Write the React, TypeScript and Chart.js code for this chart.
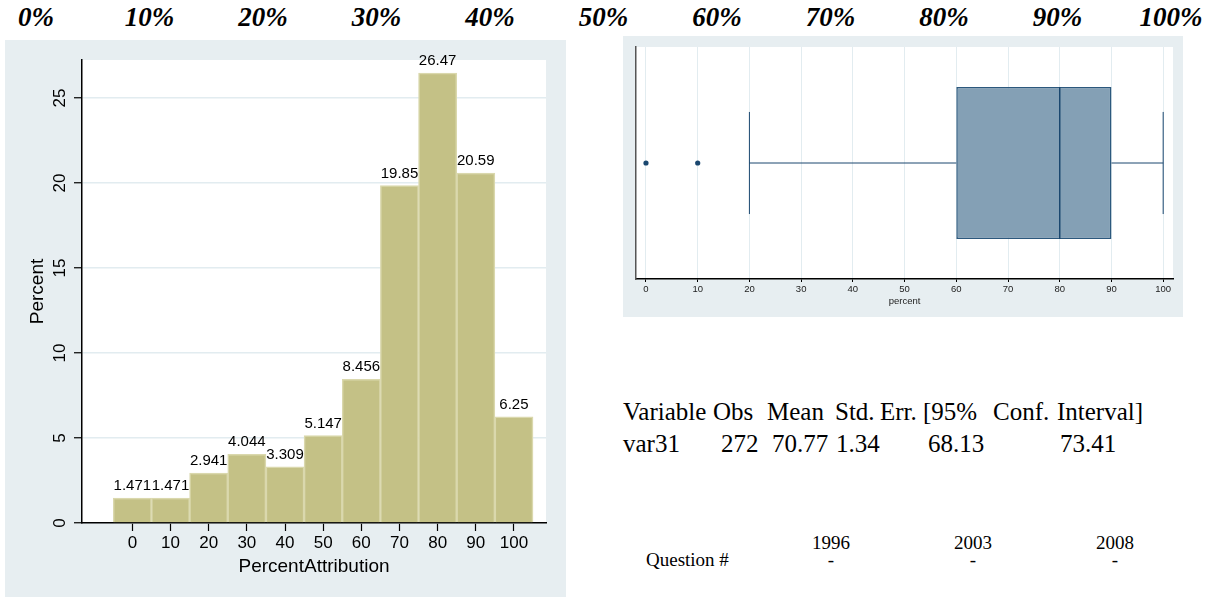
import React, { useEffect, useRef } from "react";
import { Chart, registerables } from "chart.js";

Chart.register(...registerables);

// ---------------- data ----------------
const histBinCenters = [0, 10, 20, 30, 40, 50, 60, 70, 80, 90, 100];
const histPercents = [1.471, 1.471, 2.941, 4.044, 3.309, 5.147, 8.456, 19.85, 26.47, 20.59, 6.25];
const histValueLabels = ["1.471", "1.471", "2.941", "4.044", "3.309", "5.147", "8.456", "19.85", "26.47", "20.59", "6.25"];
const histXTicks = [0, 10, 20, 30, 40, 50, 60, 70, 80, 90, 100];
const histYTicks = [0, 5, 10, 15, 20, 25];

const boxQ1 = 60;
const boxMedian = 80;
const boxQ3 = 90;
const whiskerLow = 20;
const whiskerHigh = 100;
const boxOutliers = [0, 10];
const boxXTicks = [0, 10, 20, 30, 40, 50, 60, 70, 80, 90, 100];

const rulerLabels = ["0%", "10%", "20%", "30%", "40%", "50%", "60%", "70%", "80%", "90%", "100%"];
const statsHeader = ["Variable", "Obs", "Mean", "Std.", "Err.", "[95%", "Conf.", "Interval]"];
const statsValues = ["var31", "272", "70.77", "1.34", "68.13", "73.41"];
const yearLabels = ["1996", "2003", "2008"];
const questionLabel = "Question #";
const questionValues = ["-", "-", "-"];

// ---------------- layout / style ----------------
const SANS = 'Arial, "Liberation Sans", Helvetica, sans-serif';
const SERIF = '"Times New Roman", "Liberation Serif", Times, serif';
const PANEL = "#e7eef1";
const GRID = "#e2ecf0";
const NAVY = "#1a476f";

const headerX = [623, 713, 767, 835, 880, 923, 993, 1057];
const valuesX = [623, 721, 772, 836, 928, 1060];
const yearCX = [831, 973, 1115];

const panelPlugin = {
  id: "panelBg",
  beforeDraw(chart: any, _args: any, opts: any) {
    const { ctx, chartArea: a, width, height } = chart;
    ctx.save();
    ctx.fillStyle = opts.outer;
    ctx.fillRect(0, 0, width, height);
    ctx.fillStyle = opts.inner;
    ctx.fillRect(a.left, a.top, a.right - a.left, a.bottom - a.top);
    ctx.restore();
  },
};

const barLabelPlugin = {
  id: "barLabels",
  afterDatasetsDraw(chart: any) {
    const meta = chart.getDatasetMeta(0);
    const ctx = chart.ctx;
    ctx.save();
    ctx.font = "15px " + SANS;
    ctx.fillStyle = "#000";
    ctx.textAlign = "center";
    ctx.textBaseline = "alphabetic";
    meta.data.forEach((bar: any, i: number) => {
      ctx.fillText(histValueLabels[i], bar.x, bar.y - 8);
    });
    ctx.restore();
  },
};

function HistChart() {
  const ref = useRef<HTMLCanvasElement>(null);
  useEffect(() => {
    const chart = new Chart(ref.current as HTMLCanvasElement, {
      type: "bar",
      data: {
        datasets: [
          {
            data: histBinCenters.map((x, i) => ({ x, y: histPercents[i] })),
            backgroundColor: "#c4c186",
            borderColor: "#dad8ad",
            borderWidth: 1.5,
            barPercentage: 1,
            categoryPercentage: 1,
          } as any,
        ],
      },
      options: {
        responsive: false,
        animation: false,
        layout: { padding: { left: 0, top: 20, right: 20, bottom: 0 } },
        plugins: {
          legend: { display: false },
          tooltip: { enabled: false },
          panelBg: { outer: PANEL, inner: "#ffffff" },
        } as any,
        scales: {
          x: {
            type: "linear",
            offset: false,
            min: -13.2,
            max: 108.4,
            afterBuildTicks: (ax: any) => {
              ax.ticks = histXTicks.map((v) => ({ value: v }));
            },
            afterFit: (s: any) => {
              s.height = 74;
            },
            grid: { offset: false, drawOnChartArea: false, tickLength: 8, tickColor: "#000", tickWidth: 1.2 },
            border: { color: "#000", width: 1.5 },
            ticks: { font: { size: 17, family: SANS }, color: "#000", padding: 2, maxRotation: 0, autoSkip: false },
            title: {
              display: true,
              text: "PercentAttribution",
              font: { size: 19, family: SANS },
              color: "#000",
              padding: { top: 0, bottom: 19 },
            },
          },
          y: {
            type: "linear",
            min: 0,
            max: 27.24,
            afterBuildTicks: (ax: any) => {
              ax.ticks = histYTicks.map((v) => ({ value: v }));
            },
            afterFit: (s: any) => {
              s.width = 77;
            },
            grid: { color: GRID, lineWidth: 1.5, tickLength: 8, tickColor: "#000", tickWidth: 1.2 },
            border: { color: "#000", width: 1.5 },
            ticks: {
              minRotation: 90,
              maxRotation: 90,
              crossAlign: "center",
              padding: 4.5,
              font: { size: 17, family: SANS },
              color: "#000",
            },
            title: {
              display: true,
              text: "Percent",
              font: { size: 19, family: SANS },
              color: "#000",
              padding: { top: 21, bottom: 0 },
            },
          },
        } as any,
      },
      plugins: [panelPlugin, barLabelPlugin],
    });
    return () => chart.destroy();
  }, []);
  return <canvas ref={ref} width={561} height={557} style={{ width: 561, height: 557, display: "block" }} />;
}

const boxHalfHeight = 0.655;
const capHalfHeight = 0.44;

function BoxChart() {
  const ref = useRef<HTMLCanvasElement>(null);
  useEffect(() => {
    const line = (pts: { x: number; y: number }[], w = 1) => ({
      type: "line",
      data: pts,
      borderColor: NAVY,
      borderWidth: w,
      pointRadius: 0,
      fill: false,
      showLine: true,
    });
    // datasets with lower index are drawn on top
    const chart = new Chart(ref.current as HTMLCanvasElement, {
      type: "scatter",
      data: {
        datasets: [
          line([{ x: boxMedian, y: -boxHalfHeight }, { x: boxMedian, y: boxHalfHeight }], 1.5),
          {
            type: "scatter",
            data: boxOutliers.map((x) => ({ x, y: 0 })),
            pointRadius: 2.6,
            backgroundColor: NAVY,
            borderWidth: 0,
          },
          line([{ x: whiskerLow, y: 0 }, { x: boxQ1, y: 0 }]),
          line([{ x: boxQ3, y: 0 }, { x: whiskerHigh, y: 0 }]),
          line([{ x: whiskerLow, y: -capHalfHeight }, { x: whiskerLow, y: capHalfHeight }]),
          line([{ x: whiskerHigh, y: -capHalfHeight }, { x: whiskerHigh, y: capHalfHeight }]),
          {
            type: "bar",
            indexAxis: "y",
            data: [{ x: [boxQ1, boxQ3], y: 0 }],
            backgroundColor: "#84a0b5",
            borderColor: "#2c587d",
            borderWidth: 1.5,
            borderSkipped: false,
            barPercentage: boxHalfHeight,
            categoryPercentage: 1,
          },
        ] as any,
      },
      options: {
        responsive: false,
        animation: false,
        layout: { padding: { left: 13, top: 11, right: 10, bottom: 0 } },
        plugins: {
          legend: { display: false },
          tooltip: { enabled: false },
          panelBg: { outer: PANEL, inner: "#ffffff" },
        } as any,
        scales: {
          x: {
            type: "linear",
            offset: false,
            min: -1.93,
            max: 101.9,
            beginAtZero: false,
            afterBuildTicks: (ax: any) => {
              ax.ticks = boxXTicks.map((v) => ({ value: v }));
            },
            afterFit: (s: any) => {
              s.height = 38;
            },
            grid: { offset: false, color: GRID, lineWidth: 1, tickLength: 3, tickColor: "#000", tickWidth: 1 },
            border: { color: "#000", width: 1.5 },
            ticks: { font: { size: 9.5, family: SANS }, color: "#222", padding: 2, maxRotation: 0, autoSkip: false },
            title: {
              display: true,
              text: "percent",
              font: { size: 9.5, family: SANS },
              color: "#222",
              padding: { top: 0, bottom: 10 },
            },
          },
          y: {
            type: "linear",
            offset: false,
            min: -1,
            max: 1,
            afterBuildTicks: (ax: any) => {
              ax.ticks = [{ value: -1 }, { value: 1 }];
            },
            afterFit: (s: any) => {
              s.width = 0;
            },
            grid: { offset: false, drawOnChartArea: false, drawTicks: false },
            border: { color: "#555", width: 1.5 },
            ticks: { display: false },
          },
        } as any,
      },
      plugins: [panelPlugin],
    });
    return () => chart.destroy();
  }, []);
  return <canvas ref={ref} width={560} height={281} style={{ width: 560, height: 281, display: "block" }} />;
}

const abs = (left: number, top: number, extra: React.CSSProperties = {}): React.CSSProperties => ({
  position: "absolute",
  left,
  top,
  whiteSpace: "nowrap",
  lineHeight: 1,
  ...extra,
});

export default function App() {
  return (
    <div style={{ position: "absolute", left: 0, top: 0, width: 1218, height: 598, overflow: "hidden", background: "#fff" }}>
      {rulerLabels.map((t, i) => (
        <div
          key={t}
          style={abs(36 + 113.5 * i, 4, {
            transform: "translateX(-50%)",
            fontFamily: SERIF,
            fontStyle: "italic",
            fontWeight: "bold",
            fontSize: 27,
          })}
        >
          {t}
        </div>
      ))}
      <div style={abs(5, 40)}>
        <HistChart />
      </div>
      <div style={abs(623, 36)}>
        <BoxChart />
      </div>
      {statsHeader.map((t, i) => (
        <div key={"h" + i} style={abs(headerX[i], 399, { fontFamily: SERIF, fontSize: 25 })}>
          {t}
        </div>
      ))}
      {statsValues.map((t, i) => (
        <div key={"v" + i} style={abs(valuesX[i], 431, { fontFamily: SERIF, fontSize: 25 })}>
          {t}
        </div>
      ))}
      {yearLabels.map((t, i) => (
        <div key={"y" + i} style={abs(yearCX[i], 533, { transform: "translateX(-50%)", fontFamily: SERIF, fontSize: 19 })}>
          {t}
        </div>
      ))}
      <div style={abs(646, 550, { fontFamily: SERIF, fontSize: 19 })}>{questionLabel}</div>
      {questionValues.map((t, i) => (
        <div key={"q" + i} style={abs(yearCX[i], 550, { transform: "translateX(-50%)", fontFamily: SERIF, fontSize: 19 })}>
          {t}
        </div>
      ))}
    </div>
  );
}
